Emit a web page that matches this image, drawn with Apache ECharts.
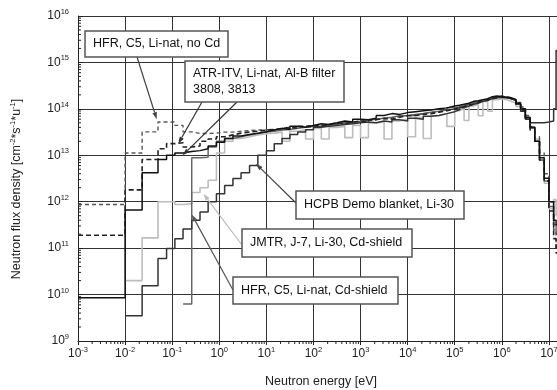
<!DOCTYPE html>
<html>
<head>
<meta charset="utf-8">
<script src="https://cdn.jsdelivr.net/npm/echarts@6/dist/echarts.min.js"></script>
<style>
  html, body { margin: 0; padding: 0; background: #fff; }
  #main { width: 557px; height: 390px; }
</style>
</head>
<body>
<div id="main"></div>
<script>
// group boundaries [eV]
var edges = [
  0.001, 0.01, 0.023, 0.05, 0.076, 0.114, 0.17, 0.26, 0.39, 0.58, 0.87, 1.3, 1.95, 2.9, 4.4, 6.6, 10,
  14.7, 21.5, 31.6, 46.4, 68.1, 100, 147, 215, 316, 464, 681, 1000,
  1470, 2150, 3160, 4640, 6810, 1e4, 1.47e4, 2.15e4, 3.16e4, 4.64e4, 6.81e4, 1e5,
  1.26e5, 1.58e5, 2e5, 2.51e5, 3.16e5, 3.98e5, 5.01e5, 6.31e5, 7.94e5, 1e6,
  1.26e6, 1.58e6, 2e6, 2.51e6, 3.16e6, 3.98e6, 5.01e6, 6.31e6, 7.94e6, 1e7,
  1.26e7, 1.42e7, 1.5e7
];

// flux per group [cm^-2 s^-1 u^-1]
var atr3813 = [
  8.5e9, 6.6e11, 4.2e12, 8.1e12, 1.0e13, 1.12e13, 1.2e13, 1.26e13, 1.38e13, 1.58e13, 1.9e13, 2.3e13, 2.6e13, 2.8e13, 3.0e13, 3.2e13,
  3.5e13, 3.8e13, 3.6e13, 4.2e13, 4.0e13, 4.4e13, 4.8e13, 4.6e13, 5.0e13, 5.5e13, 5.2e13, 6.0e13,
  5.8e13, 6.3e13, 7.2e13, 7.9e13, 7.6e13, 8.3e13, 8.7e13, 9.1e13, 9.5e13, 1.0e14, 1.05e14, 1.15e14,
  1.2e14, 1.26e14, 1.32e14, 1.45e14, 1.5e14, 1.58e14, 1.66e14, 1.82e14, 1.9e14, 1.82e14,
  1.78e14, 1.74e14, 1.58e14, 1.32e14, 1.0e14, 6.6e13, 4.0e13, 2.0e13, 8.9e12, 3.2e12,
  1.0e12, 4.0e11, 3.2e11
];
var atr3808 = [
  1.9e11, 1.8e12, 8.1e12, 1.38e13, 1.78e13, 1.86e13, 1.51e13, 1.58e13, 2.0e13, 2.24e13, 2.5e13, 2.75e13, 3.0e13, 3.16e13, 3.3e13, 3.5e13,
  3.6e13, 3.8e13, 4.0e13, 3.8e13, 4.2e13, 4.4e13, 4.2e13, 4.6e13, 5.0e13, 4.8e13, 5.2e13, 5.5e13,
  5.2e13, 5.8e13, 6.3e13, 6.0e13, 6.6e13, 7.1e13, 7.2e13, 7.6e13, 7.9e13, 8.5e13, 9.1e13, 1.0e14,
  1.05e14, 1.12e14, 1.2e14, 1.26e14, 1.38e14, 1.48e14, 1.58e14, 1.66e14, 1.74e14, 1.86e14,
  1.78e14, 1.66e14, 1.51e14, 1.26e14, 9.5e13, 6.3e13, 3.5e13, 2.0e13, 7.9e12, 2.8e12,
  6.3e11, 1.6e11, 7.9e10
];
var hfrNoCd = [
  8.7e11, 1.12e13, 3.2e13, 5.2e13, 5.2e13, 4.4e13, 3.2e13, 2.95e13, 2.95e13, 3.0e13, 3.16e13, 3.16e13, 3.3e13, 3.4e13, 3.5e13, 3.55e13,
  3.55e13, 3.6e13, 3.8e13, 4.0e13, 4.2e13, 4.0e13, 4.4e13, 4.6e13, 4.6e13, 5.0e13, 5.2e13, 5.2e13,
  5.6e13, 6.0e13, 6.0e13, 6.3e13, 6.9e13, 7.2e13, 7.2e13, 7.9e13, 8.3e13, 8.7e13, 9.5e13, 1.0e14,
  1.1e14, 1.15e14, 1.26e14, 1.32e14, 1.45e14, 1.51e14, 1.62e14, 1.74e14, 1.82e14, 1.9e14,
  1.82e14, 1.74e14, 1.58e14, 1.38e14, 1.1e14, 7.2e13, 4.2e13, 2.5e13, 1.12e13, 4.0e12,
  1.0e12, 2.5e11, 1.0e11
];
var hcpb = [
  null, 3.5e9, 1.55e10, 6.0e10, 9.8e10, 1.6e11, 2.6e11, 4.0e11, 6.0e11, 1.0e12, 1.48e12, 2.24e12, 3.16e12, 4.2e12, 6.0e12, 1.0e13,
  1.26e13, 1.78e13, 2.3e13, 2.8e13, 3.16e13, 3.55e13, 4.0e13, 4.2e13, 4.4e13, 4.6e13, 4.8e13, 5.0e13,
  5.2e13, 5.0e13, 5.5e13, 5.2e13, 5.8e13, 5.5e13, 6.3e13, 6.0e13, 6.9e13, 7.2e13, 7.9e13, 8.7e13,
  9.5e13, 1.05e14, 1.15e14, 1.26e14, 1.32e14, 1.45e14, 1.51e14, 1.66e14, 1.74e14, 1.78e14,
  1.74e14, 1.66e14, 1.51e14, 1.26e14, 8.9e13, 6.0e13, 5.0e13, 5.0e13, 5.0e13, 5.2e13,
  5.5e13, 1.0e14, 1.8e15
];
var jmtr = [
  null, 2.0e10, 1.66e11, 1.0e12, 1.0e12, 8.7e11, 9.1e11, 1.58e12, 2.0e12, 2.9e12, 1.12e13, 2.0e13, 2.3e13, 2.5e13, 2.75e13, 2.9e13,
  3.0e13, 3.16e13, 2.0e13, 3.3e13, 3.55e13, 2.24e13, 3.8e13, 2.24e13, 4.0e13, 4.2e13, 2.4e13, 4.4e13,
  2.4e13, 5.0e13, 5.2e13, 2.24e13, 5.5e13, 6.0e13, 2.5e13, 6.6e13, 2.3e13, 7.2e13, 7.9e13, 4.2e13,
  9.1e13, 1.0e14, 5.6e13, 1.15e14, 1.26e14, 7.1e13, 1.45e14, 8.9e13, 1.58e14, 1.66e14,
  1.58e14, 1.45e14, 1.32e14, 1.12e14, 8.9e13, 6.3e13, 4.0e13, 2.24e13, 7.9e12, 2.5e12,
  7.1e11, 1.12e12, 5.0e11
];
var hfrCd = [
  null, null, null, null, null, null, 6.3e9, 8.9e12, 9.1e12, 1.5e13, 2.0e13, 2.3e13, 2.5e13, 2.75e13, 2.95e13, 3.16e13,
  3.3e13, 3.5e13, 3.6e13, 3.8e13, 4.0e13, 4.2e13, 4.2e13, 4.5e13, 4.8e13, 5.0e13, 5.0e13, 5.4e13,
  5.8e13, 6.0e13, 6.3e13, 6.6e13, 7.1e13, 7.2e13, 7.6e13, 7.9e13, 8.5e13, 8.9e13, 9.5e13, 1.05e14,
  1.1e14, 1.17e14, 1.26e14, 1.35e14, 1.45e14, 1.55e14, 1.58e14, 1.74e14, 1.82e14, 1.78e14,
  1.74e14, 1.66e14, 1.51e14, 1.26e14, 9.5e13, 6.3e13, 3.8e13, 2.0e13, 7.9e12, 2.8e12,
  7.9e11, 3.2e11, 2.0e11
];

// annotations: text, box [x, y, w, h], arrow start, arrow tip [eV, flux]
var noteTexts = [
  'HFR, C5, Li-nat, no Cd',
  'ATR-ITV, Li-nat, Al-B filter\n3808, 3813',
  'HCPB Demo blanket, Li-30',
  'JMTR, J-7, Li-30, Cd-shield',
  'HFR, C5, Li-nat, Cd-shield'
];
var noteBoxes = [[85, 31, 143, 26], [185, 61, 159, 41], [296, 191, 168, 28], [242, 229, 170, 28], [233, 277, 165, 27]];
var arrowFrom = [[137, 57], [202, 102], [237, 102], [296, 203], [242, 245], [233, 290]];
var arrowTip = [[0.047, 6.0e13], [0.135, 1.78e13], [0.167, 1.0e13], [6.0, 6.6e12], [0.46, 1.48e12], [0.26, 5.3e11]];
var arrowColor = ['#444', '#333', '#333', '#444', '#bbb', '#555'];

var FONT = '"Liberation Sans", Arial, sans-serif';

function steps(vals) {
  var pts = [], last = 0;
  for (var i = 0; i < vals.length; i++) {
    if (vals[i] == null) continue;
    pts.push([edges[i], vals[i]]);
    last = i;
  }
  pts.push([edges[last + 1], vals[last]]);
  return pts;
}

function powLabel(v) {
  var e = Math.round(Math.log10(v));
  return '{b|10}{s|' + e + '}';
}
var labelRich = {
  b: { fontSize: 12, fontFamily: FONT, color: '#222', lineHeight: 16 },
  s: { fontSize: 7.5, fontFamily: FONT, color: '#222', verticalAlign: 'top', lineHeight: 16 }
};

// minor log ticks
var minorX = [], minorY = [];
for (var d = -3; d < 7; d++) for (var k = 2; k < 10; k++) minorX.push([k * Math.pow(10, d), 1e9]);
for (var d2 = 9; d2 < 16; d2++) for (var k2 = 2; k2 < 10; k2++) minorY.push([1e-3, k2 * Math.pow(10, d2)]);

function line(name, vals, color, width, type, z) {
  return {
    name: name, type: 'line', step: 'end', data: steps(vals),
    symbol: 'none', z: z, clip: true,
    lineStyle: { color: color, width: width, type: type }
  };
}

var myChart = echarts.init(document.getElementById('main'));

var option = {
  animation: false,
  backgroundColor: '#fff',
  grid: { left: 78, top: 16, width: 518, height: 325, outerBoundsMode: 'none', containLabel: false },
  xAxis: {
    type: 'log', logBase: 10, min: 1e-3, max: 1e8, interval: 1,
    axisLine: { lineStyle: { color: '#222', width: 1 } },
    axisTick: { length: 4, lineStyle: { color: '#222' } },
    splitLine: { show: true, lineStyle: { color: '#333', width: 1 } },
    axisLabel: { formatter: powLabel, rich: labelRich, margin: 5, showMaxLabel: true }
  },
  yAxis: {
    type: 'log', logBase: 10, min: 1e9, max: 1e16, interval: 1,
    axisLine: { lineStyle: { color: '#222', width: 1 } },
    axisTick: { inside: true, length: 5, lineStyle: { color: '#222' } },
    splitLine: { show: true, lineStyle: { color: '#333', width: 1 } },
    axisLabel: { formatter: powLabel, rich: labelRich, margin: 9 }
  },
  series: [
    line('JMTR, J-7, Li-30, Cd-shield', jmtr, '#bdbdbd', 1.6, 'solid', 2),
    line('HFR, C5, Li-nat, Cd-shield', hfrCd, '#666', 1.5, 'solid', 3),
    line('HFR, C5, Li-nat, no Cd', hfrNoCd, '#555', 1.4, [4, 3], 4),
    line('HCPB Demo blanket, Li-30', hcpb, '#333', 1.5, 'solid', 5),
    line('ATR-ITV 3808', atr3808, '#222', 1.6, [5, 3], 6),
    line('ATR-ITV 3813', atr3813, '#111', 1.5, 'solid', 7),
    {
      type: 'custom', data: minorX, z: 10, clip: false,
      renderItem: function (params, api) {
        var p = api.coord([api.value(0), api.value(1)]);
        return { type: 'line', shape: { x1: p[0], y1: p[1], x2: p[0], y2: p[1] + 3 }, style: { stroke: '#222', lineWidth: 1 } };
      }
    },
    {
      type: 'custom', data: minorY, z: 10, clip: false,
      renderItem: function (params, api) {
        var p = api.coord([api.value(0), api.value(1)]);
        return { type: 'line', shape: { x1: p[0], y1: p[1], x2: p[0] + 3, y2: p[1] }, style: { stroke: '#222', lineWidth: 1 } };
      }
    }
  ]
};

myChart.setOption(option);

// annotation boxes and arrows
var graphics = [];
noteTexts.forEach(function (t, i) {
  var b = noteBoxes[i];
  graphics.push({
    type: 'rect', z: 100,
    shape: { x: b[0], y: b[1], width: b[2], height: b[3] },
    style: { fill: '#fff', stroke: '#555', lineWidth: 1.5 }
  });
  graphics.push({
    type: 'text', z: 101, x: b[0] + 8, y: b[1] + b[3] / 2,
    style: { text: t, fill: '#111', fontSize: 12.5, fontFamily: FONT, lineHeight: 16, verticalAlign: 'middle', align: 'left' }
  });
});
arrowTip.forEach(function (tip, i) {
  var p = myChart.convertToPixel({ gridIndex: 0 }, tip);
  var f = arrowFrom[i];
  var dx = p[0] - f[0], dy = p[1] - f[1];
  var len = Math.sqrt(dx * dx + dy * dy), ux = dx / len, uy = dy / len;
  var hl = 7, hw = 2.3;
  var bx = p[0] - ux * hl, by = p[1] - uy * hl;
  graphics.push({
    type: 'line', z: 99,
    shape: { x1: f[0], y1: f[1], x2: bx, y2: by },
    style: { stroke: arrowColor[i], lineWidth: 1.2 }
  });
  graphics.push({
    type: 'polygon', z: 99,
    shape: { points: [[p[0], p[1]], [bx - uy * hw, by + ux * hw], [bx + uy * hw, by - ux * hw]] },
    style: { fill: arrowColor[i] }
  });
});
graphics.push({
  type: 'text', x: 321, y: 382,
  style: { text: 'Neutron energy [eV]', fill: '#222', fontSize: 12.5, fontFamily: FONT, align: 'center', verticalAlign: 'middle' }
});
graphics.push({
  type: 'text', x: 17, y: 189, rotation: Math.PI / 2,
  style: {
    text: 'Neutron flux density [cm{s|-2}*s{s|-1}*u{s|-1}]',
    fill: '#222', fontSize: 12.5, fontFamily: FONT, align: 'center', verticalAlign: 'middle',
    rich: { s: { fontSize: 7.5, fontFamily: FONT, fill: '#222', verticalAlign: 'top', lineHeight: 16 } }
  }
});
myChart.setOption({ graphic: graphics });
</script>
</body>
</html>
